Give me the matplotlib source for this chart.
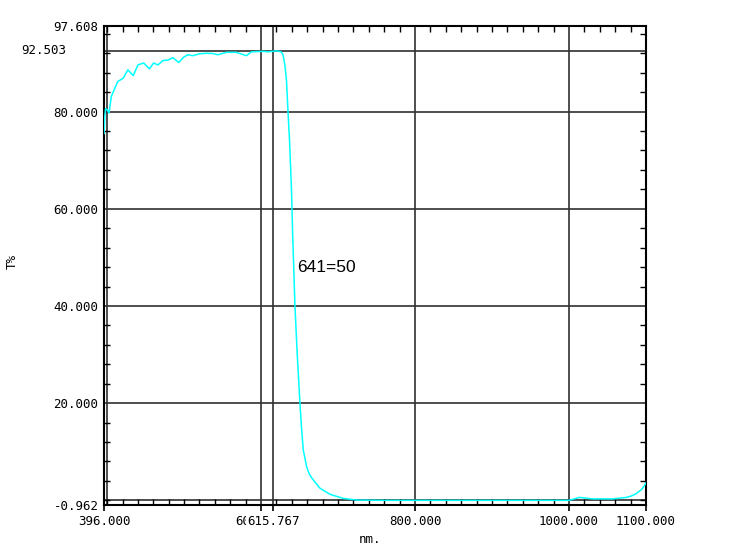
import numpy as np
import matplotlib
matplotlib.use("Agg")
import matplotlib.pyplot as plt
from matplotlib.ticker import FixedLocator
from matplotlib.transforms import blended_transform_factory

# transmission curve
wl = [396, 397, 398, 400, 402.5, 405.5, 410, 414, 421, 427, 434, 440, 447.5,
      455, 460.5, 466, 472.5, 479, 485.5, 493, 499.5, 505, 511.5, 520, 529,
      537.5, 544, 555, 567.5, 581, 587.5, 602.5, 609, 620, 626, 628.5, 631,
      633, 635, 637, 639.5, 641, 642, 644, 647, 650.5, 652.5, 654.8, 659.2,
      663, 667.8, 676.5, 689.5, 706.8, 724, 760, 800, 850, 900, 950, 1000,
      1013.5, 1031, 1057, 1074.5, 1081, 1087.5, 1094, 1097, 1100]
tr = [75.5, 79.0, 80.6, 80.4, 79.7, 83.1, 84.8, 86.2, 86.9, 88.6, 87.4, 89.6,
      90.0, 88.8, 90.0, 89.6, 90.5, 90.6, 91.1, 90.1, 91.2, 91.7, 91.5, 91.9,
      92.0, 91.95, 91.7, 92.2, 92.2, 91.5, 92.3, 92.4, 92.3, 92.5, 92.3, 91.7,
      89.5, 86.5, 80.0, 74.0, 64.0, 55.0, 50.0, 40.0, 30.0, 20.0, 15.0, 10.4,
      6.9, 5.3, 4.2, 2.5, 1.25, 0.4, 0.06, 0.0, 0.0, 0.0, 0.0, 0.0, 0.0,
      0.6, 0.3, 0.3, 0.6, 0.9, 1.4, 2.2, 2.8, 3.6]

x_min, x_max = 396.0, 1100.0
y_min, y_max = -0.962, 97.608
peak = 92.503
cursor = 615.767

x_grid = [400, 600, cursor, 800, 1000]
y_grid = [0, 20, 40, 60, 80, peak]
x_ticks = [396.0, 600.0, cursor, 800.0, 1000.0, 1100.0]
y_ticks = [y_min, 20.0, 40.0, 60.0, 80.0, y_max]

mono = "DejaVu Sans Mono"

fig = plt.figure(figsize=(7.5, 5.49), dpi=100)
ax = fig.add_axes([0.1387, 0.0801, 0.7226, 0.8725])

for g in x_grid:
    ax.axvline(g, color="#303030", lw=1.2, zorder=1)
for g in y_grid:
    ax.axhline(g, color="#303030", lw=1.2, zorder=1)

ax.plot(wl, tr, color="#00FFFF", lw=1.1, zorder=3)

ax.set_xlim(x_min, x_max)
ax.set_ylim(y_min, y_max)

ax.set_xticks(x_ticks)
ax.set_xticklabels(["%.3f" % v for v in x_ticks], fontfamily=mono, fontsize=9)
ax.set_yticks(y_ticks)
ax.set_yticklabels(["%.3f" % v for v in y_ticks], fontfamily=mono, fontsize=9)
ax.xaxis.get_ticklabels()[2].set_bbox(dict(facecolor="white", edgecolor="none", pad=0.5))

# the peak value label sits further left than the other y labels
trans = blended_transform_factory(ax.transAxes, ax.transData)
ax.text(-0.07, peak, "%.3f" % peak, transform=trans, fontfamily=mono,
        fontsize=9, ha="right", va="center", clip_on=False)

ax.xaxis.set_minor_locator(FixedLocator(np.arange(400, 1101, 20)))
ax.yaxis.set_minor_locator(FixedLocator(np.arange(0, 97, 4)))
ax.tick_params(which="major", length=4, width=1.2, direction="out", pad=3)
ax.tick_params(which="minor", length=4, width=1, direction="in",
               top=True, right=True)
ax.tick_params(axis="y", which="major", length=0, pad=4)

for s in ax.spines.values():
    s.set_linewidth(1.5)

ax.text(646.6, 48.0, "641=50", fontsize=12.5, fontfamily="Liberation Sans",
        ha="left", va="center", zorder=4)

fig.text(0.016, 0.523, "T%", rotation=90, fontsize=9, fontfamily=mono,
         ha="center", va="center")
fig.text(0.493, 0.017, "nm.", fontsize=9, fontfamily=mono,
         ha="center", va="center")

fig.savefig("out.png", dpi=100)
